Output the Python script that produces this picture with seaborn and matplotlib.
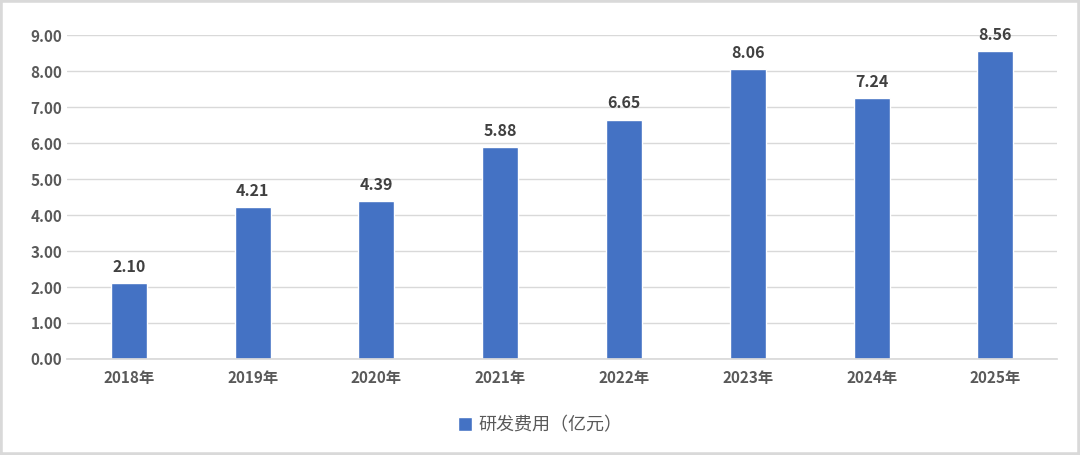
import matplotlib
matplotlib.use("Agg")
import matplotlib.pyplot as plt
import seaborn as sns
import pandas as pd
from matplotlib.patches import Rectangle

years = ["2018年", "2019年", "2020年", "2021年", "2022年", "2023年", "2024年", "2025年"]
rd_cost = [2.10, 4.21, 4.39, 5.88, 6.65, 8.06, 7.24, 8.56]
series_name = "研发费用（亿元）"

sns.set_theme(style="white")
plt.rcParams['font.family'] = ['Noto Sans CJK SC', 'DejaVu Sans']

df = pd.DataFrame({"year": years, "value": rd_cost, "series": series_name})

fig = plt.figure(figsize=(10.8, 4.55), dpi=100)
ax = fig.add_axes([0.062, 0.211, 0.917, 0.712])

sns.barplot(data=df, x="year", y="value", hue="series", palette=["#4472C4"],
            saturation=1, width=0.29, ax=ax, legend=True)

ax.set_ylim(0, 9)
ax.set_yticks([i for i in range(10)])
ax.set_yticklabels([f"{i:.2f}" for i in range(10)])
ax.yaxis.grid(True, color="#D9D9D9", linewidth=1)
ax.set_axisbelow(True)
for s in ["top", "right", "left"]:
    ax.spines[s].set_visible(False)
ax.spines["bottom"].set_color("#D9D9D9")
ax.set_xlabel("")
ax.set_ylabel("")
ax.tick_params(axis="both", length=0, labelsize=11, labelcolor="#595959")
ax.tick_params(axis="x", pad=8)
for lab in ax.get_xticklabels() + ax.get_yticklabels():
    lab.set_fontweight("bold")

for c in ax.containers:
    ax.bar_label(c, fmt="%.2f", padding=6, fontsize=11.5, fontweight="bold", color="#404040")

ax.legend(loc="center", bbox_to_anchor=(0.478, -0.205), frameon=False,
          fontsize=13, handlelength=0.75, handleheight=0.75, handletextpad=0.4,
          labelcolor="#595959")

fig.patches.append(Rectangle((0, 0), 1, 1, transform=fig.transFigure, fill=False,
                             edgecolor="#D9D9D9", linewidth=4))

fig.savefig("out.png", dpi=100)
